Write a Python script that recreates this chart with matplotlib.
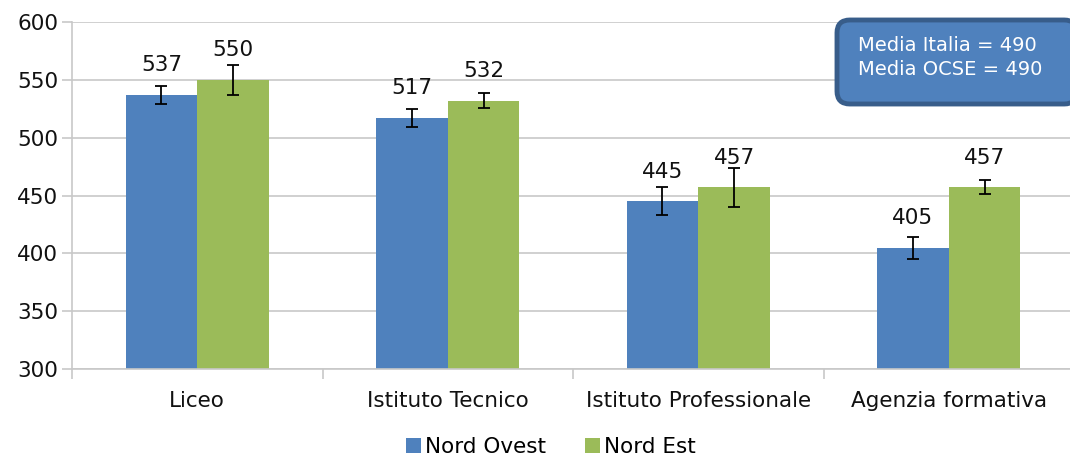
import numpy as np
import matplotlib
matplotlib.use('Agg')
import matplotlib.pyplot as plt
from matplotlib.patches import FancyBboxPatch

plt.rcParams['font.family'] = ['DejaVu Sans']

categories = ['Liceo', 'Istituto Tecnico', 'Istituto Professionale', 'Agenzia formativa']
nord_ovest = [537, 517, 445, 405]
nord_est = [550, 532, 457, 457]
err_ovest = [7.5, 8, 12, 9.5]
err_est = [13, 6.5, 17, 6]

blue = '#4F81BD'
green = '#9BBB59'
grid_col = '#C8C8C8'
txt_col = '#111111'

fig = plt.figure(figsize=(10.7, 4.59), dpi=100)
ax = fig.add_axes([72/1070, 90/459, 1002/1070, 347/459])

x = np.arange(len(categories))
w = 0.286
b1 = ax.bar(x - w/2, np.array(nord_ovest) - 300, w, bottom=300, color=blue, label='Nord Ovest', zorder=2)
b2 = ax.bar(x + w/2, np.array(nord_est) - 300, w, bottom=300, color=green, label='Nord Est', zorder=2)
ax.errorbar(x - w/2, nord_ovest, yerr=err_ovest, fmt='none', ecolor='black', elinewidth=1.3, capsize=4, capthick=1.3, zorder=3)
ax.errorbar(x + w/2, nord_est, yerr=err_est, fmt='none', ecolor='black', elinewidth=1.3, capsize=4, capthick=1.3, zorder=3)

for xs, vals in ((x - w/2, nord_ovest), (x + w/2, nord_est)):
    for xi, v in zip(xs, vals):
        ax.annotate(str(v), (xi, v), xytext=(0, 17), textcoords='offset points',
                    ha='center', va='baseline', fontsize=15.5, color=txt_col, zorder=4)

ax.set_ylim(300, 600)
ax.set_xlim(-0.5, len(categories) - 0.5)
ax.set_yticks(range(300, 601, 50))
ax.yaxis.grid(True, color=grid_col, linewidth=1.2, zorder=0)
ax.set_axisbelow(True)

ax.set_xticks(np.arange(-0.5, len(categories), 1.0))
ax.set_xticklabels([])
ax.set_xticks(x, minor=True)
ax.set_xticklabels(categories, minor=True, fontsize=15.5, color=txt_col)
ax.tick_params(axis='x', which='minor', length=0, pad=16)
ax.tick_params(axis='x', which='major', length=7, color=grid_col, width=1.2)
ax.tick_params(axis='y', length=7, color=grid_col, width=1.2, labelsize=15.5, labelcolor=txt_col, pad=3)

for s in ['top', 'right']:
    ax.spines[s].set_visible(False)
for s in ['left', 'bottom']:
    ax.spines[s].set_color(grid_col)
    ax.spines[s].set_linewidth(1.2)

box = FancyBboxPatch((837/1070, 1 - 104/459), 240/1070, 84/459,
                     boxstyle='round,pad=0,rounding_size=0.012', transform=fig.transFigure,
                     facecolor=blue, edgecolor='#385D8A', linewidth=3.5, mutation_aspect=1070/459)
fig.patches.append(box)
fig.text(858/1070, 1 - 36/459, 'Media Italia = 490\nMedia OCSE = 490', color='white',
         fontsize=14, va='top', ha='left', linespacing=1.35)

fig.legend(handles=[b1, b2], loc='center', bbox_to_anchor=(0.515, 1 - 447/459), ncol=2,
           frameon=False, fontsize=15.5, handlelength=0.7, handleheight=0.7,
           handletextpad=0.2, columnspacing=1.8)

fig.savefig('out.png', dpi=100)
